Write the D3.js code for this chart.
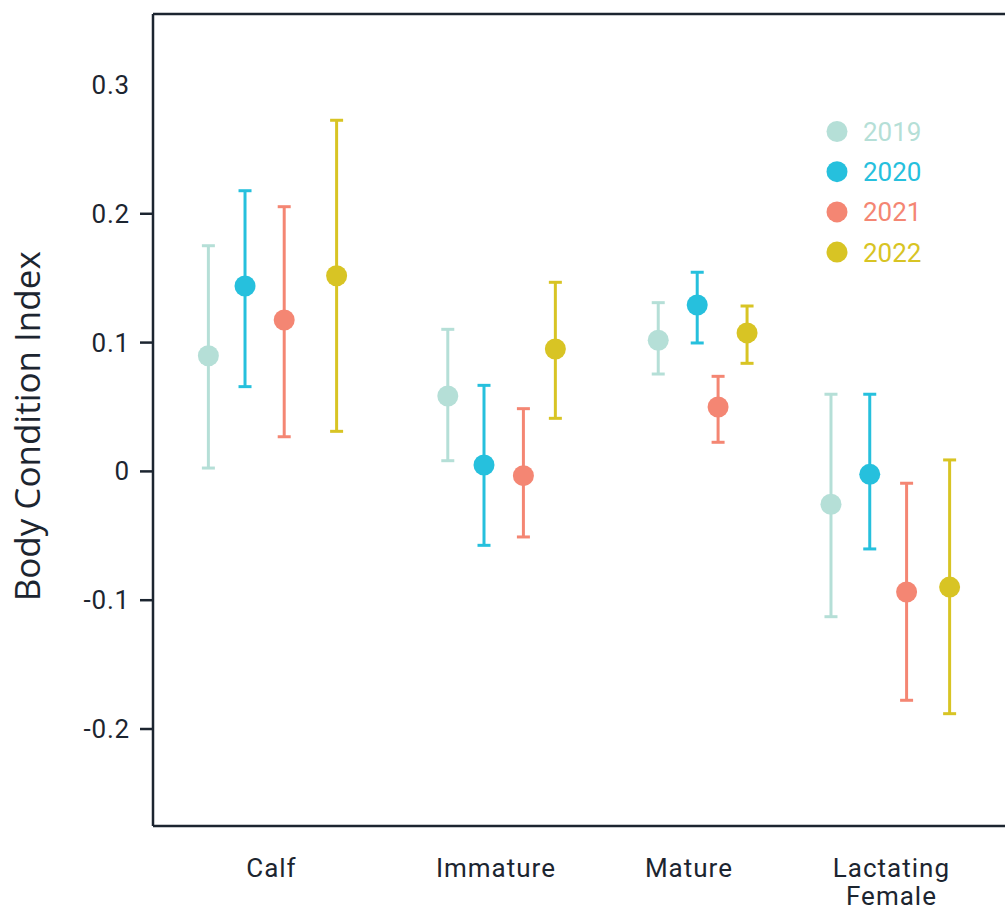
<!DOCTYPE html>
<html>
<head>
<meta charset="utf-8">
<script src="https://cdn.jsdelivr.net/npm/d3@7"></script>
<style>
  html, body { margin: 0; padding: 0; background: #ffffff; }
  svg { display: block; }
</style>
</head>
<body>
<svg id="chart" width="1005" height="912"></svg>
<script>
// ---------------- DATA ----------------
const categories = ["Calf", "Immature", "Mature", "Lactating Female"];
const categoryLines = [["Calf"], ["Immature"], ["Mature"], ["Lactating", "Female"]];
// category label positions on the numeric x axis (categories nominally at 1..4)
const categoryPos = [1.056, 2.110, 3.016, 3.967];
const years = ["2019", "2020", "2021", "2022"];

// mean body condition index per year, one value per category
const mean2019 = [0.0898, 0.0585, 0.1018, -0.0255];
const mean2020 = [0.1439, 0.0050, 0.1292, -0.0023];
const mean2021 = [0.1175, -0.0033, 0.0500, -0.0936];
const mean2022 = [0.1519, 0.0950, 0.1075, -0.0898];

// upper / lower interval limits
const hi2019 = [0.1752, 0.1103, 0.1310, 0.0599];
const lo2019 = [0.0026, 0.0083, 0.0756, -0.1128];
const hi2020 = [0.2179, 0.0668, 0.1546, 0.0599];
const lo2020 = [0.0658, -0.0574, 0.0997, -0.0602];
const hi2021 = [0.2055, 0.0487, 0.0738, -0.0092];
const lo2021 = [0.0269, -0.0509, 0.0226, -0.1777];
const hi2022 = [0.2726, 0.1468, 0.1284, 0.0089];
const lo2022 = [0.0311, 0.0412, 0.0839, -0.1881];

// dodged x positions (numeric x units) per year
const x2019 = [0.760, 1.884, 2.872, 3.683];
const x2020 = [0.932, 2.054, 3.055, 3.865];
const x2021 = [1.116, 2.239, 3.153, 4.038];
const x2022 = [1.362, 2.389, 3.289, 4.240];

const yTicks = [0.3, 0.2, 0.1, 0, -0.1, -0.2];
const yTickLabels = ["0.3", "0.2", "0.1", "0", "-0.1", "-0.2"];
const yTicksWithMark = [0.2, 0.1, 0, -0.1, -0.2];
const yTitle = "Body Condition Index";

// ---------------- STYLE ----------------
const colors = ["#b5dfd7", "#26c0dd", "#f48673", "#d8c424"];
const axisColor = "#1c2530";
const width = 1005, height = 912;
const plot = { left: 153, right: 1005, top: 14, bottom: 826 };

const series = years.map((yr, i) => ({
  year: yr,
  color: colors[i],
  mean: [mean2019, mean2020, mean2021, mean2022][i],
  hi: [hi2019, hi2020, hi2021, hi2022][i],
  lo: [lo2019, lo2020, lo2021, lo2022][i],
  x: [x2019, x2020, x2021, x2022][i]
}));

const svg = d3.select("#chart");

const x = d3.scaleLinear().domain([0.5, 4.5]).range([plot.left, plot.right]);
const y = d3.scaleLinear().domain([-0.2753, 0.3551]).range([plot.bottom, plot.top]);

const tickFont = "Roboto, 'Noto Sans', sans-serif";

// frame lines: left, top, bottom
const frame = svg.append("g").attr("stroke", axisColor).attr("stroke-width", 2.5).attr("fill", "none");
frame.append("line").attr("x1", x(0.5)).attr("x2", x(0.5)).attr("y1", y.range()[1]).attr("y2", y.range()[0]);
frame.append("line").attr("x1", x(0.5)).attr("x2", x(4.5)).attr("y1", y(y.domain()[1])).attr("y2", y(y.domain()[1]));
frame.append("line").attr("x1", x(0.5)).attr("x2", x(4.5)).attr("y1", y(y.domain()[0])).attr("y2", y(y.domain()[0]));

// y axis tick marks & labels
const yAxis = svg.append("g");
yAxis.selectAll("line.tick")
  .data(yTicksWithMark)
  .join("line")
  .attr("class", "tick")
  .attr("x1", plot.left - 13).attr("x2", plot.left)
  .attr("y1", d => y(d)).attr("y2", d => y(d))
  .attr("stroke", axisColor).attr("stroke-width", 2.5);
yAxis.selectAll("text")
  .data(yTicks)
  .join("text")
  .attr("x", 130)
  .attr("y", d => y(d))
  .attr("dy", "0.35em")
  .attr("text-anchor", "end")
  .attr("font-family", tickFont)
  .attr("font-size", 26)
  .attr("letter-spacing", 0.8)
  .attr("fill", axisColor)
  .text((d, i) => yTickLabels[i]);

// y title
svg.append("text")
  .attr("transform", `translate(40, ${y(0.035)}) rotate(-90)`)
  .attr("text-anchor", "middle")
  .attr("font-family", "'Open Sans', 'Noto Sans', sans-serif")
  .attr("font-size", 35)
  .attr("fill", axisColor)
  .text(yTitle);

// category labels
const catG = svg.append("g");
categoryLines.forEach((lines, i) => {
  const t = catG.append("text")
    .attr("x", x(categoryPos[i]))
    .attr("y", 877)
    .attr("text-anchor", "middle")
    .attr("font-family", tickFont)
    .attr("font-size", 26)
    .attr("letter-spacing", 1)
    .attr("fill", axisColor);
  lines.forEach((ln, j) => {
    t.append("tspan").attr("x", x(categoryPos[i])).attr("dy", j === 0 ? 0 : 28).text(ln);
  });
});

// error bars and points
const capHalf = 6.5;
series.forEach(s => {
  const g = svg.append("g");
  const idx = d3.range(categories.length);
  g.selectAll("line.bar").data(idx).join("line")
    .attr("x1", i => x(s.x[i])).attr("x2", i => x(s.x[i]))
    .attr("y1", i => y(s.hi[i])).attr("y2", i => y(s.lo[i]))
    .attr("stroke", s.color).attr("stroke-width", 3);
  g.selectAll("line.capHi").data(idx).join("line")
    .attr("x1", i => x(s.x[i]) - capHalf).attr("x2", i => x(s.x[i]) + capHalf)
    .attr("y1", i => y(s.hi[i])).attr("y2", i => y(s.hi[i]))
    .attr("stroke", s.color).attr("stroke-width", 3);
  g.selectAll("line.capLo").data(idx).join("line")
    .attr("x1", i => x(s.x[i]) - capHalf).attr("x2", i => x(s.x[i]) + capHalf)
    .attr("y1", i => y(s.lo[i])).attr("y2", i => y(s.lo[i]))
    .attr("stroke", s.color).attr("stroke-width", 3);
  g.selectAll("circle").data(idx).join("circle")
    .attr("cx", i => x(s.x[i])).attr("cy", i => y(s.mean[i]))
    .attr("r", 10.5)
    .attr("fill", s.color);
});

// legend
const legend = svg.append("g").attr("transform", "translate(837, 131.5)");
series.forEach((s, i) => {
  const row = legend.append("g").attr("transform", `translate(0, ${i * 40.2})`);
  row.append("circle").attr("r", 10.5).attr("fill", s.color);
  row.append("text")
    .attr("x", 26).attr("y", 9.5)
    .attr("font-family", tickFont)
    .attr("font-size", 26)
    .attr("fill", s.color)
    .text(s.year);
});
</script>
</body>
</html>
